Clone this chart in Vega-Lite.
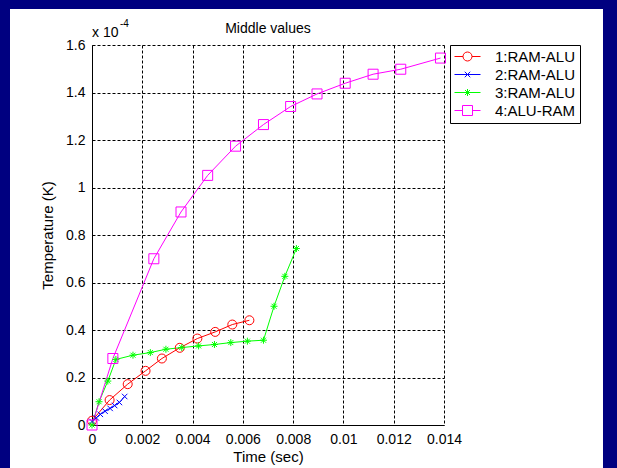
{
  "$schema": "https://vega.github.io/schema/vega-lite/v6.json",
  "width": 352,
  "height": 380,
  "autosize": {"type": "none"},
  "padding": {"left": 92, "top": 45, "right": 173, "bottom": 43},
  "background": "white",
  "config": {
    "font": "Liberation Sans",
    "view": {"stroke": null},
    "axis": {
      "grid": true, "gridColor": "black", "gridDash": [3, 2], "gridWidth": 1, "gridOpacity": 1,
      "domainColor": "black", "domainWidth": 1, "ticks": false, "tickSize": 0,
      "labelFont": "Liberation Sans", "labelFontSize": 14, "labelColor": "black", "labelPadding": 7,
      "titleFont": "Liberation Sans", "titleFontSize": 15, "titleFontWeight": "normal", "titleColor": "black"
    },
    "legend": {
      "title": null, "orient": "none", "legendX": 358, "legendY": 0,
      "strokeColor": "black", "fillColor": "white", "padding": 4, "cornerRadius": 0,
      "labelFont": "Liberation Sans", "labelFontSize": 15, "labelColor": "black",
      "symbolOffset": 6, "labelOffset": 20, "rowPadding": 2, "symbolSize": 100, "symbolStrokeWidth": 1, "symbolOpacity": 1
    }
  },
  "data": {"values": [
    {"series": "1:RAM-ALU", "t": 0, "T": 0.0000018},
    {"series": "1:RAM-ALU", "t": 0.0007, "T": 0.0000105},
    {"series": "1:RAM-ALU", "t": 0.00142, "T": 0.0000172},
    {"series": "1:RAM-ALU", "t": 0.00213, "T": 0.0000228},
    {"series": "1:RAM-ALU", "t": 0.00278, "T": 0.000028},
    {"series": "1:RAM-ALU", "t": 0.00349, "T": 0.0000325},
    {"series": "1:RAM-ALU", "t": 0.00419, "T": 0.0000364},
    {"series": "1:RAM-ALU", "t": 0.0049, "T": 0.0000392},
    {"series": "1:RAM-ALU", "t": 0.00558, "T": 0.0000423},
    {"series": "1:RAM-ALU", "t": 0.00626, "T": 0.0000441},
    {"series": "2:RAM-ALU", "t": 0, "T": 0.0000015},
    {"series": "2:RAM-ALU", "t": 0.00017, "T": 0.000003},
    {"series": "2:RAM-ALU", "t": 0.00033, "T": 0.0000045},
    {"series": "2:RAM-ALU", "t": 0.00052, "T": 0.0000058},
    {"series": "2:RAM-ALU", "t": 0.00072, "T": 0.000007},
    {"series": "2:RAM-ALU", "t": 0.0009, "T": 0.0000082},
    {"series": "2:RAM-ALU", "t": 0.00109, "T": 0.0000095},
    {"series": "2:RAM-ALU", "t": 0.0013, "T": 0.000012},
    {"series": "3:RAM-ALU", "t": 0, "T": 0},
    {"series": "3:RAM-ALU", "t": 0.00028, "T": 0.0000098},
    {"series": "3:RAM-ALU", "t": 0.00063, "T": 0.0000185},
    {"series": "3:RAM-ALU", "t": 0.00095, "T": 0.0000276},
    {"series": "3:RAM-ALU", "t": 0.00163, "T": 0.0000294},
    {"series": "3:RAM-ALU", "t": 0.00232, "T": 0.0000305},
    {"series": "3:RAM-ALU", "t": 0.00294, "T": 0.0000319},
    {"series": "3:RAM-ALU", "t": 0.00357, "T": 0.0000326},
    {"series": "3:RAM-ALU", "t": 0.00424, "T": 0.0000333},
    {"series": "3:RAM-ALU", "t": 0.00487, "T": 0.0000339},
    {"series": "3:RAM-ALU", "t": 0.00552, "T": 0.0000347},
    {"series": "3:RAM-ALU", "t": 0.00618, "T": 0.0000353},
    {"series": "3:RAM-ALU", "t": 0.00682, "T": 0.0000357},
    {"series": "3:RAM-ALU", "t": 0.00724, "T": 0.00005},
    {"series": "3:RAM-ALU", "t": 0.00767, "T": 0.0000626},
    {"series": "3:RAM-ALU", "t": 0.00813, "T": 0.0000743},
    {"series": "4:ALU-RAM", "t": 0, "T": 0},
    {"series": "4:ALU-RAM", "t": 0.00083, "T": 0.000028},
    {"series": "4:ALU-RAM", "t": 0.00246, "T": 0.00007},
    {"series": "4:ALU-RAM", "t": 0.00354, "T": 0.0000897},
    {"series": "4:ALU-RAM", "t": 0.0046, "T": 0.0001051},
    {"series": "4:ALU-RAM", "t": 0.00571, "T": 0.0001174},
    {"series": "4:ALU-RAM", "t": 0.00682, "T": 0.0001265},
    {"series": "4:ALU-RAM", "t": 0.0079, "T": 0.0001341},
    {"series": "4:ALU-RAM", "t": 0.00895, "T": 0.0001394},
    {"series": "4:ALU-RAM", "t": 0.01007, "T": 0.0001439},
    {"series": "4:ALU-RAM", "t": 0.01118, "T": 0.0001477},
    {"series": "4:ALU-RAM", "t": 0.01228, "T": 0.0001498},
    {"series": "4:ALU-RAM", "t": 0.01386, "T": 0.0001545}
  ]},
  "encoding": {
    "x": {"field": "t", "type": "quantitative",
      "scale": {"domain": [0, 0.014], "nice": false, "zero": false},
      "axis": {"title": "Time (sec)", "values": [0, 0.002, 0.004, 0.006, 0.008, 0.01, 0.012, 0.014], "labelExpr": "format(datum.value, '.3~f')", "titlePadding": 3, "labelFlush": false}},
    "y": {"field": "T", "type": "quantitative",
      "scale": {"domain": [0, 0.00016], "nice": false, "zero": false},
      "axis": {"title": "Temperature (K)", "values": [0, 0.00002, 0.00004, 0.00006, 0.00008, 0.0001, 0.00012, 0.00014, 0.00016], "labelExpr": "format(datum.value * 10000, '.2~f')", "titlePadding": 10, "labelFlush": false}}
  },
  "layer": [
    {
      "mark": {"type": "line", "strokeWidth": 1},
      "encoding": {
        "color": {"field": "series", "type": "nominal",
          "scale": {"domain": ["1:RAM-ALU", "2:RAM-ALU", "3:RAM-ALU", "4:ALU-RAM"], "range": ["#FF0000", "#0000FF", "#00FF00", "#FF00FF"]}}
      }
    },
    {
      "transform": [{"filter": "datum.series === '1:RAM-ALU'"}],
      "mark": {"type": "point", "filled": false, "size": 100, "strokeWidth": 1, "opacity": 1, "shape": "M0.9,0A0.9,0.9 0 1,1 -0.9,0A0.9,0.9 0 1,1 0.9,0Z"},
      "encoding": {"color": {"field": "series", "type": "nominal"}}
    },
    {
      "transform": [{"filter": "datum.series === '2:RAM-ALU'"}],
      "mark": {"type": "point", "filled": false, "size": 100, "strokeWidth": 1, "opacity": 1, "shape": "M-0.55,-0.55L0.55,0.55M-0.55,0.55L0.55,-0.55"},
      "encoding": {"color": {"field": "series", "type": "nominal"}}
    },
    {
      "transform": [{"filter": "datum.series === '3:RAM-ALU'"}],
      "mark": {"type": "point", "filled": false, "size": 100, "strokeWidth": 1, "opacity": 1, "shape": "M0,-0.7V0.7M-0.7,0H0.7M-0.5,-0.5L0.5,0.5M-0.5,0.5L0.5,-0.5"},
      "encoding": {"color": {"field": "series", "type": "nominal"}}
    },
    {
      "transform": [{"filter": "datum.series === '4:ALU-RAM'"}],
      "mark": {"type": "point", "filled": false, "size": 100, "strokeWidth": 1, "opacity": 1, "shape": "M-1,-1H1V1H-1Z"},
      "encoding": {"color": {"field": "series", "type": "nominal"}}
    },
    {
      "mark": {"type": "point", "filled": false, "size": 100, "strokeWidth": 1, "opacity": 0},
      "encoding": {
        "color": {"field": "series", "type": "nominal"},
        "shape": {"field": "series", "type": "nominal",
          "scale": {"domain": ["1:RAM-ALU", "2:RAM-ALU", "3:RAM-ALU", "4:ALU-RAM"],
            "range": ["M-2.6,0H-0.9M0.9,0H2.6M0.9,0A0.9,0.9 0 1,1 -0.9,0A0.9,0.9 0 1,1 0.9,0", "M-2.6,0H2.6M-0.55,-0.55L0.55,0.55M-0.55,0.55L0.55,-0.55", "M-2.6,0H2.6M0,-0.7V0.7M-0.5,-0.5L0.5,0.5M-0.5,0.5L0.5,-0.5", "M-2.6,0H-1M1,0H2.6M-1,-1H1V1H-1Z"]}}
      }
    },
    {
      "transform": [{"aggregate": [{"op": "max", "field": "t", "as": "t"}, {"op": "max", "field": "T", "as": "T"}]}],
      "mark": {"type": "text", "text": "Middle values", "align": "center", "baseline": "alphabetic", "dy": -12, "fontSize": 14, "color": "black", "font": "Liberation Sans"},
      "encoding": {"x": {"datum": 0.007, "type": "quantitative"}, "y": {"datum": 0.00016, "type": "quantitative"}}
    },
    {
      "transform": [{"aggregate": [{"op": "max", "field": "t", "as": "t"}, {"op": "max", "field": "T", "as": "T"}]}],
      "mark": {"type": "text", "text": "x 10", "align": "left", "baseline": "alphabetic", "dy": -8, "fontSize": 14, "color": "black", "font": "Liberation Sans"},
      "encoding": {"x": {"datum": 0, "type": "quantitative"}, "y": {"datum": 0.00016, "type": "quantitative"}}
    },
    {
      "transform": [{"aggregate": [{"op": "max", "field": "t", "as": "t"}, {"op": "max", "field": "T", "as": "T"}]}],
      "mark": {"type": "text", "text": "-4", "align": "left", "baseline": "alphabetic", "dx": 28, "dy": -18, "fontSize": 10, "color": "black", "font": "Liberation Sans"},
      "encoding": {"x": {"datum": 0, "type": "quantitative"}, "y": {"datum": 0.00016, "type": "quantitative"}}
    },
    {
      "transform": [{"aggregate": [{"op": "max", "field": "t", "as": "t"}, {"op": "max", "field": "T", "as": "T"}]}],
      "mark": {"type": "rect", "fillOpacity": 0, "stroke": "#000080", "strokeWidth": 40, "clip": false},
      "encoding": {
        "x": {"datum": -0.0040568, "type": "quantitative"},
        "x2": {"datum": 0.0211193},
        "y": {"datum": 0.000183579, "type": "quantitative"},
        "y2": {"datum": -0.000030737}
      }
    }
  ]
}
